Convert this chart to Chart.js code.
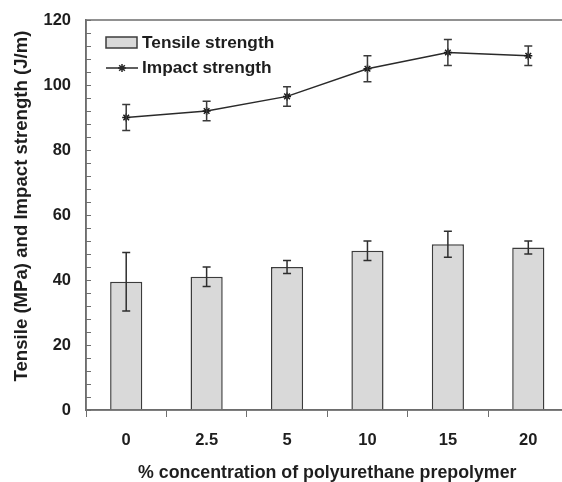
<!DOCTYPE html>
<html>
<head>
<meta charset="utf-8">
<script src="https://cdn.jsdelivr.net/npm/chart.js@4.4.0/dist/chart.umd.min.js"></script>
<style>
  html, body { margin: 0; padding: 0; background: #fff; overflow: hidden; }
  #wrap { width: 574px; height: 482px; }
</style>
</head>
<body>
<div id="wrap"><canvas id="c"></canvas></div>
<script>
// Concentration of polyurethane prepolymer (%)
const categories = ['0', '2.5', '5', '10', '15', '20'];
// Tensile strength (MPa) with standard deviation
const tensile = [39.5, 41, 44, 49, 51, 50];
const tensileErr = [9, 3, 2, 3, 4, 2];
// Impact strength (J/m) with standard deviation
const impact = [90, 92, 96.5, 105, 110, 109];
const impactErr = [4, 3, 3, 4, 4, 3];
// Labelled y values and minor tick step
const yTickLabels = [0, 20, 40, 60, 80, 100, 120];
const yMinorStep = 4;

const FONT = '"Liberation Sans", Arial, Helvetica, sans-serif';
const TEXT = '#1e1e1e';
const AXIS = '#6e6e6e';

const errors = { 0: tensileErr, 1: impactErr };

// Error bars with caps for both series
const errorBars = {
  id: 'errorBars',
  afterDatasetsDraw(chart) {
    const { ctx } = chart;
    const y = chart.scales.y;
    chart.data.datasets.forEach((ds, i) => {
      const err = errors[i];
      if (!err) return;
      const meta = chart.getDatasetMeta(i);
      ctx.save();
      ctx.strokeStyle = i === 0 ? '#2e2e2e' : '#3a3a3a';
      ctx.lineWidth = 1.5;
      meta.data.forEach((el, j) => {
        const v = ds.data[j];
        const top = y.getPixelForValue(v + err[j]);
        const bot = y.getPixelForValue(v - err[j]);
        const x = el.x;
        ctx.beginPath();
        ctx.moveTo(x, top); ctx.lineTo(x, bot);
        ctx.moveTo(x - 4, top); ctx.lineTo(x + 4, top);
        ctx.moveTo(x - 4, bot); ctx.lineTo(x + 4, bot);
        ctx.stroke();
      });
      ctx.restore();
    });
  }
};

// Frame around the plot, inward y ticks, legend and y title
const decorations = {
  id: 'decorations',
  afterDraw(chart) {
    const { ctx, chartArea: a } = chart;
    const y = chart.scales.y;
    ctx.save();
    ctx.strokeStyle = AXIS;
    ctx.lineWidth = 1.5;
    ctx.strokeRect(a.left, a.top, a.right - a.left, a.bottom - a.top);

    ctx.lineWidth = 1;
    ctx.beginPath();
    for (let v = y.min; v <= y.max; v += yMinorStep) {
      const py = Math.round(y.getPixelForValue(v)) + 0.5;
      ctx.moveTo(a.left, py);
      ctx.lineTo(a.left + 5, py);
    }
    ctx.stroke();

    // legend
    const bar = chart.data.datasets[0];
    const line = chart.data.datasets[1];
    ctx.fillStyle = bar.backgroundColor;
    ctx.fillRect(106, 37, 31, 11);
    ctx.strokeStyle = bar.borderColor;
    ctx.lineWidth = 1.5;
    ctx.strokeRect(106, 37, 31, 11);

    ctx.strokeStyle = line.borderColor;
    ctx.lineWidth = 1.5;
    ctx.beginPath();
    ctx.moveTo(106, 68); ctx.lineTo(138, 68);
    ctx.stroke();
    Chart.helpers.drawPoint(ctx, { pointStyle: 'star', radius: 4, borderWidth: 1.5 }, 122, 68);

    ctx.fillStyle = TEXT;
    ctx.font = 'bold 17.3px ' + FONT;
    ctx.textBaseline = 'middle';
    ctx.textAlign = 'left';
    ctx.fillText(bar.label, 142, 43);
    ctx.fillText(line.label, 142, 68);

    // y axis title
    ctx.font = 'bold 18.6px ' + FONT;
    ctx.translate(22, 206);
    ctx.rotate(-Math.PI / 2);
    ctx.textAlign = 'center';
    ctx.fillText('Tensile (MPa) and Impact strength (J/m)', 0, 0);
    ctx.restore();
  }
};

new Chart(document.getElementById('c'), {
  data: {
    labels: categories,
    datasets: [
      {
        type: 'bar',
        label: 'Tensile strength',
        data: tensile,
        backgroundColor: '#d9d9d9',
        borderColor: '#3c3c3c',
        borderWidth: 1.5,
        categoryPercentage: 1,
        barPercentage: 0.4,
        order: 1
      },
      {
        type: 'line',
        label: 'Impact strength',
        data: impact,
        borderColor: '#2a2a2a',
        borderWidth: 1.5,
        tension: 0,
        pointStyle: 'star',
        pointRadius: 4,
        pointBorderWidth: 1.5,
        pointBorderColor: '#1a1a1a',
        pointBackgroundColor: '#1a1a1a',
        order: 0
      }
    ]
  },
  options: {
    responsive: true,
    maintainAspectRatio: false,
    animation: false,
    layout: { padding: { top: 20, right: 2, left: 0, bottom: 0 } },
    plugins: { legend: { display: false }, tooltip: { enabled: false } },
    scales: {
      x: {
        type: 'category',
        offset: true,
        grid: { display: true, drawOnChartArea: false, drawTicks: true, tickLength: 7, color: AXIS, lineWidth: 1, offset: true },
        border: { display: true, color: AXIS, width: 1.5 },
        ticks: { color: TEXT, font: { family: FONT, size: 16.5, weight: 'bold' }, padding: 13.5, maxRotation: 0 },
        title: {
          display: true,
          text: '% concentration of polyurethane prepolymer',
          color: TEXT,
          font: { family: FONT, size: 17.8, weight: 'bold' },
          padding: { top: 0, bottom: -2 }
        },
        afterFit(scale) {
          scale.height = 72;
          scale.paddingLeft = 0;
          scale.paddingRight = 0;
        }
      },
      y: {
        min: 0,
        max: 120,
        afterBuildTicks(scale) { scale.ticks = yTickLabels.map(v => ({ value: v })); },
        grid: { display: true, drawOnChartArea: false, drawTicks: false },
        border: { display: true, color: AXIS, width: 1.5 },
        ticks: { color: TEXT, font: { family: FONT, size: 16.5, weight: 'bold' }, padding: 15 },
        afterFit(scale) {
          scale.width = 86;
          scale.paddingTop = 0;
          scale.paddingBottom = 0;
        }
      }
    }
  },
  plugins: [errorBars, decorations]
});
</script>
</body>
</html>
